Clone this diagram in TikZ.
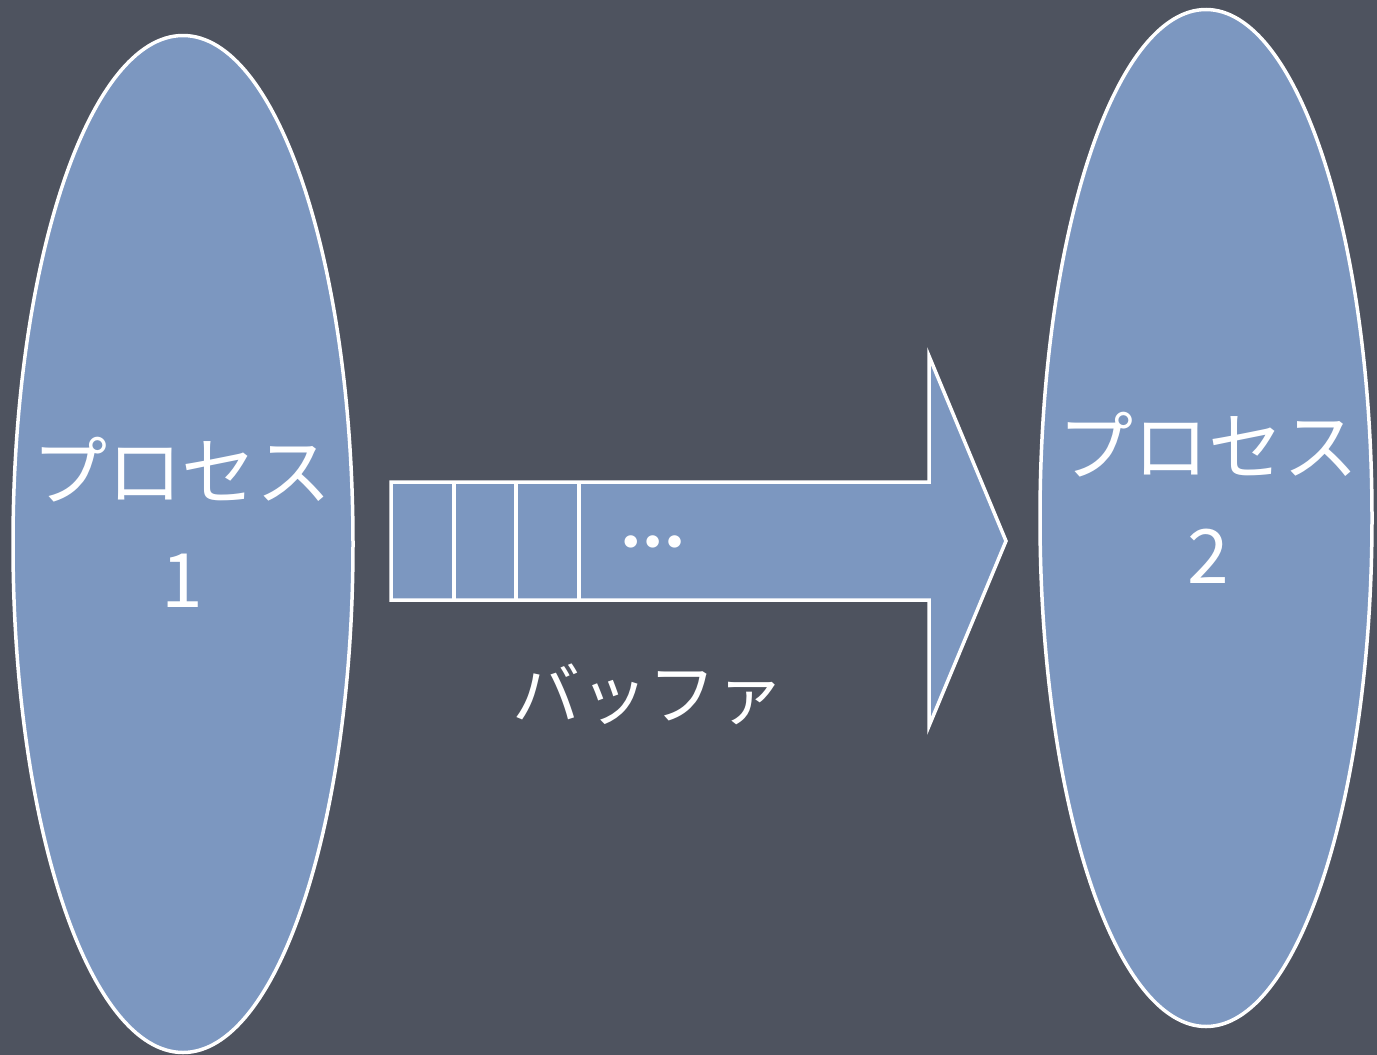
\documentclass[tikz,border=0pt]{standalone}
\usepackage{fontspec}
\newfontfamily\cjk{Noto Sans CJK JP}
\newfontfamily\dotsfont{Lato}
\definecolor{bgslate}{RGB}{78,83,95}
\definecolor{procblue}{RGB}{124,151,192}
\tikzset{
  proc/.style={ellipse, draw=white, line width=3.5pt, fill=procblue, inner sep=0pt},
  lbl/.style={text=white, font=\cjk\fontsize{75}{90}\selectfont, inner sep=0pt, anchor=center},
  arrowshape/.style={draw=white, line width=3.5pt, fill=procblue, line join=miter},
  cellline/.style={draw=white, line width=3.5pt}
}
\usetikzlibrary{shapes.geometric}
\begin{document}
\begin{tikzpicture}[x=1pt,y=-1pt]
\useasboundingbox (0,0) rectangle (1377,1055);
\fill[bgslate] (0,0) rectangle (1377,1055);
% processes
\node[proc, minimum width=340pt, minimum height=1017pt] (p1) at (183,544) {};
\node[proc, minimum width=332pt, minimum height=1017pt] (p2) at (1206,518) {};
\node[lbl] (p1a) at (182,470) {プロセス};
\node[lbl] (p1b) at (182,581) {1};
\node[lbl] (p2a) at (1208,445) {プロセス};
\node[lbl] (p2b) at (1208,556) {2};
% buffer arrow
\coordinate (a1) at (391,482);
\coordinate (a2) at (929,482);
\coordinate (a3) at (929,356);
\coordinate (tip) at (1006,541);
\coordinate (a5) at (929,726);
\coordinate (a6) at (929,600);
\coordinate (a7) at (391,600);
\draw[arrowshape] (a1) -- (a2) -- (a3) -- (tip) -- (a5) -- (a6) -- (a7) -- cycle;
\coordinate (c1t) at (454,482); \coordinate (c1b) at (454,600);
\coordinate (c2t) at (516,482); \coordinate (c2b) at (516,600);
\coordinate (c3t) at (579,482); \coordinate (c3b) at (579,600);
\draw[cellline] (c1t) -- (c1b);
\draw[cellline] (c2t) -- (c2b);
\draw[cellline] (c3t) -- (c3b);
\node[lbl, font=\dotsfont\bfseries\fontsize{82}{90}\selectfont, anchor=base] (dots) at (653,547) {…};
\node[lbl, font=\cjk\fontsize{68}{80}\selectfont] (buf) at (648,694) {バッファ};
\end{tikzpicture}
\end{document}
